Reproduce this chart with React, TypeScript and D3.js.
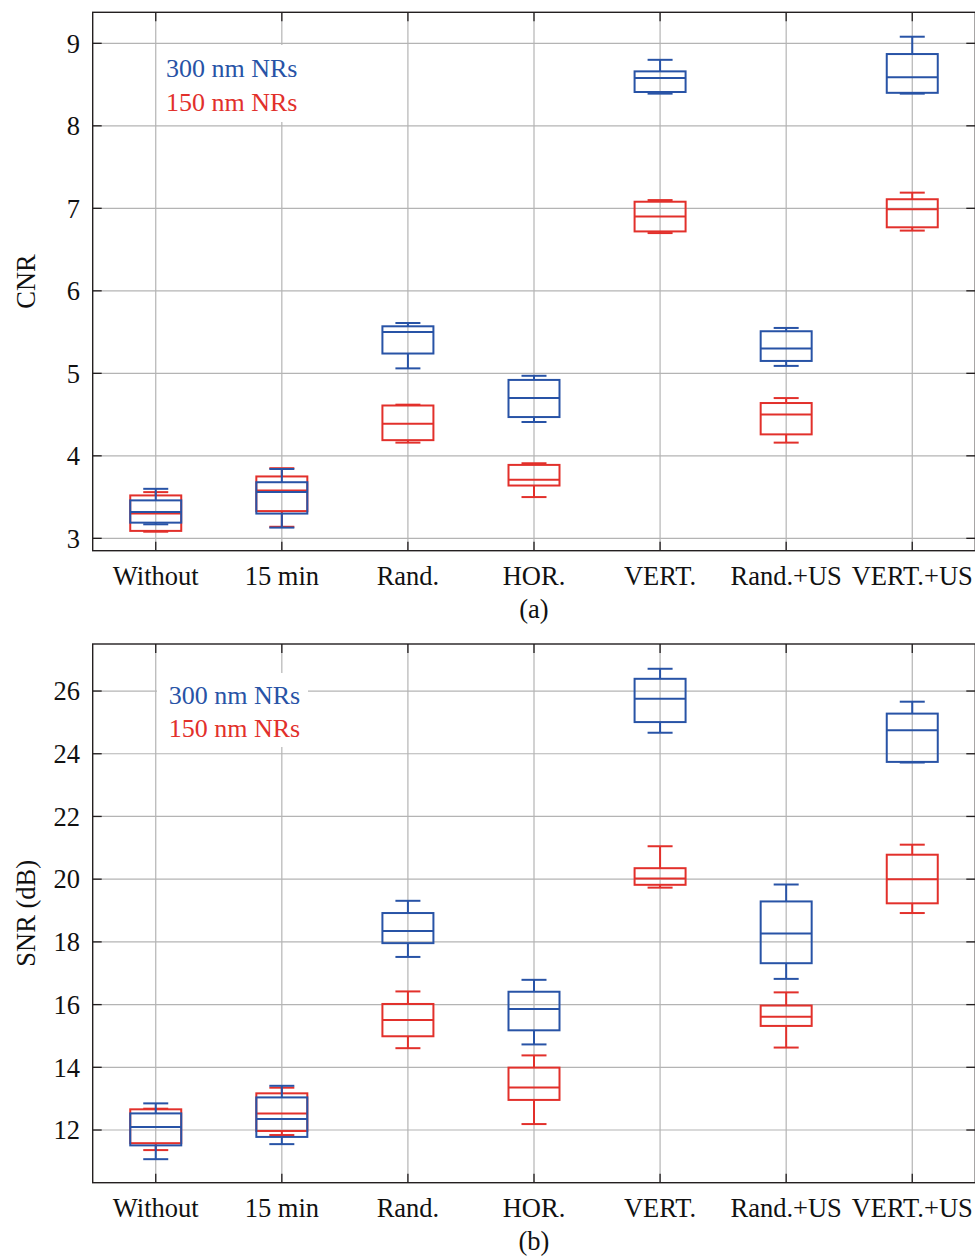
import * as d3 from 'd3';

// categories on the x axis
const categories = ['Without', '15 min', 'Rand.', 'HOR.', 'VERT.', 'Rand.+US', 'VERT.+US'];

// each entry: [lower whisker, q1, median, q3, upper whisker]
const cnr300 = [
  [3.17, 3.19, 3.32, 3.46, 3.6],
  [3.13, 3.3, 3.56, 3.68, 3.84],
  [5.06, 5.24, 5.5, 5.57, 5.61],
  [4.41, 4.47, 4.7, 4.92, 4.97],
  [8.39, 8.41, 8.58, 8.66, 8.8],
  [5.09, 5.15, 5.3, 5.51, 5.55],
  [8.39, 8.4, 8.59, 8.87, 9.08],
];
const cnr150 = [
  [3.08, 3.09, 3.3, 3.52, 3.56],
  [3.14, 3.33, 3.58, 3.75, 3.85],
  [4.16, 4.19, 4.39, 4.61, 4.62],
  [3.5, 3.64, 3.71, 3.89, 3.91],
  [6.7, 6.72, 6.9, 7.08, 7.1],
  [4.16, 4.26, 4.5, 4.64, 4.7],
  [6.73, 6.77, 6.99, 7.11, 7.19],
];
const snr300 = [
  [11.07, 11.51, 12.1, 12.53, 12.85],
  [11.55, 11.78, 12.35, 13.04, 13.41],
  [17.52, 17.96, 18.35, 18.92, 19.31],
  [14.73, 15.18, 15.86, 16.41, 16.79],
  [24.67, 25.01, 25.75, 26.39, 26.71],
  [16.82, 17.32, 18.27, 19.29, 19.83],
  [23.72, 23.74, 24.75, 25.28, 25.66],
];
const snr150 = [
  [11.36, 11.58, 12.1, 12.66, 12.68],
  [11.84, 11.97, 12.53, 13.17, 13.35],
  [14.61, 14.99, 15.51, 16.02, 16.42],
  [12.19, 12.96, 13.36, 13.99, 14.38],
  [19.73, 19.82, 20.02, 20.35, 21.05],
  [14.63, 15.32, 15.61, 15.97, 16.39],
  [18.92, 19.23, 20.0, 20.78, 21.1],
];

const cnrTicks = [3, 4, 5, 6, 7, 8, 9];
const snrTicks = [12, 14, 16, 18, 20, 22, 24, 26];

const BLUE = '#2853a6';
const RED = '#e2302b';
const GRID = '#b4b4b4';
const AXIS = '#231f20';
const FONT = '"Liberation Serif", "Times New Roman", serif';

const W = 975;
const H = 1258;
const left = 92.7;
const right = 975.3;

const x = d3.scaleLinear().domain([0.5, categories.length + 0.5]).range([left, right]);

function Boxes({ data, color, y }: { data: number[][]; color: string; y: d3.ScaleLinear<number, number> }) {
  const bw = 51;
  const cw = 25;
  return (
    <g stroke={color} strokeWidth={2} fill="none">
      {data.map((d, i) => {
        const cx = x(i + 1);
        const [lo, q1, med, q3, hi] = d;
        return (
          <g key={i}>
            <line x1={cx} x2={cx} y1={y(hi)} y2={y(q3)} />
            <line x1={cx} x2={cx} y1={y(q1)} y2={y(lo)} />
            <line x1={cx - cw / 2} x2={cx + cw / 2} y1={y(hi)} y2={y(hi)} />
            <line x1={cx - cw / 2} x2={cx + cw / 2} y1={y(lo)} y2={y(lo)} />
            <rect x={cx - bw / 2} y={y(q3)} width={bw} height={y(q1) - y(q3)} />
            <line x1={cx - bw / 2} x2={cx + bw / 2} y1={y(med)} y2={y(med)} />
          </g>
        );
      })}
    </g>
  );
}

function Panel({
  top, bottom, domain, ticks, red, blue, ylabel, tag, legend,
}: {
  top: number; bottom: number; domain: [number, number]; ticks: number[];
  red: number[][]; blue: number[][]; ylabel: string; tag: string;
  legend: { x: number; y: number; box: [number, number, number, number] };
}) {
  const y = d3.scaleLinear().domain(domain).range([bottom, top]);
  const tl = 9;
  return (
    <g>
      {/* grid */}
      <g stroke={GRID} strokeWidth={1.2}>
        {ticks.map(t => (
          <line key={'h' + t} x1={left} x2={right} y1={y(t)} y2={y(t)} />
        ))}
        {categories.map((c, i) => (
          <line key={'v' + c} x1={x(i + 1)} x2={x(i + 1)} y1={top} y2={bottom} />
        ))}
      </g>
      {/* legend background */}
      <rect x={legend.box[0]} y={legend.box[1]} width={legend.box[2]} height={legend.box[3]} fill="#fff" />
      <text x={legend.x} y={legend.y} fill={BLUE} fontSize={26} fontFamily={FONT}>300 nm NRs</text>
      <text x={legend.x} y={legend.y + 33.5} fill={RED} fontSize={26} fontFamily={FONT}>150 nm NRs</text>
      {/* ticks */}
      <g stroke={AXIS} strokeWidth={1.3}>
        {ticks.map(t => (
          <g key={'t' + t}>
            <line x1={left} x2={left + tl} y1={y(t)} y2={y(t)} />
            <line x1={right - tl} x2={right} y1={y(t)} y2={y(t)} />
          </g>
        ))}
        {categories.map((c, i) => (
          <g key={'xt' + c}>
            <line x1={x(i + 1)} x2={x(i + 1)} y1={bottom} y2={bottom - tl} />
            <line x1={x(i + 1)} x2={x(i + 1)} y1={top} y2={top + tl} />
          </g>
        ))}
      </g>
      <Boxes data={red} color={RED} y={y} />
      <Boxes data={blue} color={BLUE} y={y} />
      {/* frame */}
      <rect x={left} y={top} width={right - left} height={bottom - top} fill="none" stroke={AXIS} strokeWidth={1.4} />
      <g fontFamily={FONT} fontSize={26.5} fill="#111">
        {ticks.map(t => (
          <text key={'l' + t} x={80} y={y(t)} dy="0.35em" textAnchor="end">{t}</text>
        ))}
        {categories.map((c, i) => (
          <text key={'c' + c} x={x(i + 1)} y={bottom + 34} textAnchor="middle">{c}</text>
        ))}
        <text x={534} y={bottom + 67} textAnchor="middle">{tag}</text>
        <text transform={`translate(35,${(top + bottom) / 2}) rotate(-90)`} textAnchor="middle">{ylabel}</text>
      </g>
    </g>
  );
}

export default function App() {
  return (
    <svg width={W} height={H} style={{ position: 'absolute', left: 0, top: 0, background: '#fff' }}>
      <rect width={W} height={H} fill="#fff" />
      <Panel
        top={12.3}
        bottom={550.7}
        domain={[2.85, 9.376]}
        ticks={cnrTicks}
        red={cnr150}
        blue={cnr300}
        ylabel="CNR"
        tag="(a)"
        legend={{ x: 166, y: 77, box: [157, 45, 148, 77] }}
      />
      <Panel
        top={644}
        bottom={1182.7}
        domain={[10.32, 27.5]}
        ticks={snrTicks}
        red={snr150}
        blue={snr300}
        ylabel="SNR (dB)"
        tag="(b)"
        legend={{ x: 168.7, y: 703.5, box: [157, 673, 151, 74] }}
      />
    </svg>
  );
}
